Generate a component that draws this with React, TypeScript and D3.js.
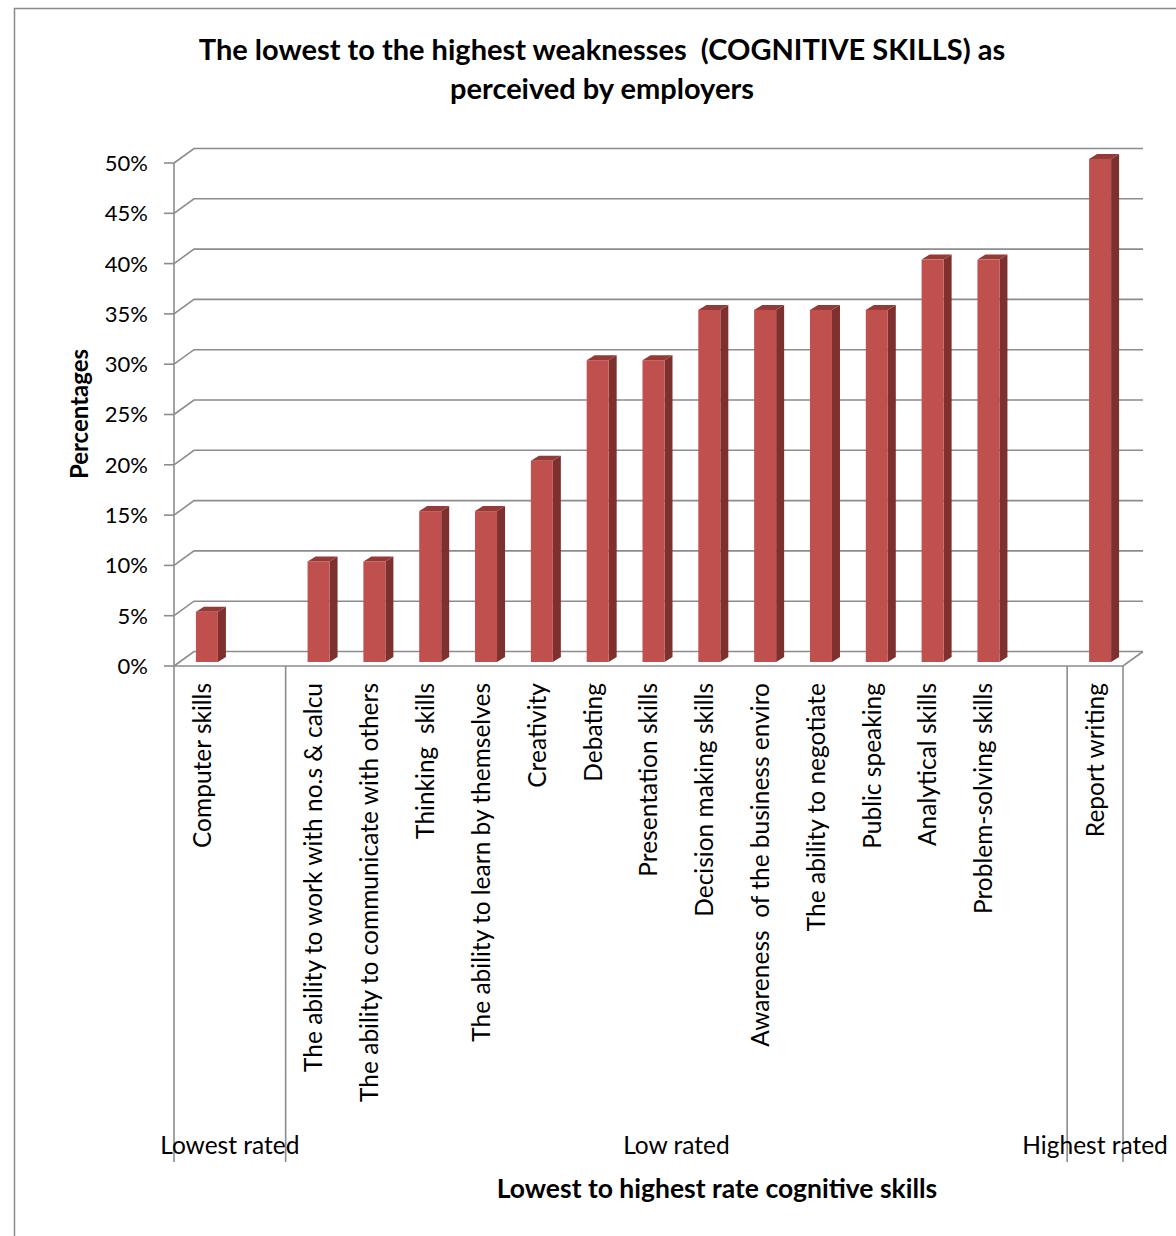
import React from "react";
import * as d3 from "d3";

const categories: string[] = [
  "Computer skills",
  "",
  "The ability to work with no.s & calcu",
  "The ability to communicate with others",
  "Thinking  skills",
  "The ability to learn by themselves",
  "Creativity",
  "Debating",
  "Presentation skills",
  "Decision making skills",
  "Awareness  of the business enviro",
  "The ability to negotiate",
  "Public speaking",
  "Analytical skills",
  "Problem-solving skills",
  "",
  "Report writing",
];
const values: (number | null)[] = [5, null, 10, 10, 15, 15, 20, 30, 30, 35, 35, 35, 35, 40, 40, null, 50];
const groupLabels: string[] = ["Lowest rated", "Low rated", "Highest rated"];
const groupSizes: number[] = [2, 14, 1];
const yTicks: number[] = [0, 5, 10, 15, 20, 25, 30, 35, 40, 45, 50];

const FONT = "Lato, 'Open Sans', sans-serif";
const W = 1176;
const H = 1236;

export default function App() {
  const left = 174;
  const right = 1123;
  const depthX = 20;
  const depthY = -14.5;
  const floorY = 666;
  const bottomY = 1162;

  const x = d3
    .scaleBand<number>()
    .domain(categories.map((_, i) => i))
    .range([left, right])
    .paddingInner(0)
    .paddingOuter(0);
  const bw = x.bandwidth();
  const yFront = d3.scaleLinear().domain([0, 50]).range([floorY, 163]);
  const yBar = d3.scaleLinear().domain([0, 50]).range([662, 159]);

  const gridColor = "#8c8c8c";
  const barW = 22;
  const sideW = 8;
  const topH = 5;

  const bounds: number[] = [0];
  let acc = 0;
  groupSizes.forEach((s) => {
    acc += s;
    bounds.push(acc);
  });
  const boundX = (k: number) => (k >= categories.length ? right : x(k)!);

  return (
    <svg
      width={W}
      height={H}
      style={{ position: "absolute", left: 0, top: 0, background: "#fff" }}
    >
      <rect x={0} y={0} width={W} height={H} fill="#fff" />
      <rect x={14.5} y={8.5} width={1180} height={1250} fill="none" stroke="#8a8a8a" strokeWidth={1.5} />

      {/* Title */}
      <text x={602} y={60} textAnchor="middle" fontFamily={FONT} fontWeight="bold" fontSize={29} style={{ whiteSpace: "pre" }}>
        {"The lowest to the highest weaknesses  (COGNITIVE SKILLS) as"}
      </text>
      <text x={602} y={99} textAnchor="middle" fontFamily={FONT} fontWeight="bold" fontSize={29}>
        perceived by employers
      </text>

      {/* Gridlines (back wall) */}
      {yTicks.map((t) => {
        const yf = yFront(t);
        return (
          <g key={t}>
            <path
              d={`M${left},${yf} L${left + depthX},${yf + depthY} L${right + depthX},${yf + depthY}`}
              fill="none"
              stroke={gridColor}
              strokeWidth={1.6}
            />
            <line x1={left - 10} x2={left} y1={yf} y2={yf} stroke={gridColor} strokeWidth={1.6} />
            <text x={148} y={yf} dy="0.36em" textAnchor="end" fontFamily={FONT} fontSize={22}>
              {t}%
            </text>
          </g>
        );
      })}

      {/* floor front + right edges */}
      <path
        d={`M${left},${floorY} L${right},${floorY} L${right + depthX},${floorY + depthY}`}
        fill="none"
        stroke={gridColor}
        strokeWidth={1.6}
      />
      {/* y axis line */}
      <line x1={left} x2={left} y1={yFront(50)} y2={bottomY} stroke={gridColor} strokeWidth={1.6} />
      {/* group divider lines */}
      {bounds.slice(1).map((b, i) => (
        <line key={i} x1={boundX(b)} x2={boundX(b)} y1={floorY} y2={bottomY} stroke={gridColor} strokeWidth={1.6} />
      ))}

      {/* Bars */}
      {values.map((v, i) => {
        if (v === null) return null;
        const cx = x(i)! + bw / 2 + 5;
        const x0 = cx - barW / 2;
        const x1 = cx + barW / 2;
        const yt = yBar(v);
        const yb = yBar(0);
        return (
          <g key={i}>
            <path
              d={`M${x1},${yb} L${x1},${yt} L${x1 + sideW},${yt - topH} L${x1 + sideW},${yb - topH} Z`}
              fill="#7e302e"
            />
            <path
              d={`M${x0},${yt} L${x0 + sideW},${yt - topH} L${x1 + sideW},${yt - topH} L${x1},${yt} Z`}
              fill="#943a37"
            />
            <rect x={x0} y={yt} width={barW} height={yb - yt} fill="#c0504d" />
          </g>
        );
      })}

      {/* Category labels */}
      {categories.map((c, i) => {
        const cx = x(i)! + bw / 2;
        return (
          <text
            key={i}
            transform={`translate(${cx},683) rotate(-90)`}
            textAnchor="end"
            dy="0.36em"
            fontFamily={FONT}
            fontSize={24.5}
            style={{ whiteSpace: "pre" }}
          >
            {c}
          </text>
        );
      })}

      {/* Group labels */}
      {groupLabels.map((g, i) => {
        const cx = (boundX(bounds[i]) + boundX(bounds[i + 1])) / 2;
        return (
          <text key={g} x={cx} y={1154} textAnchor="middle" fontFamily={FONT} fontSize={24.5}>
            {g}
          </text>
        );
      })}

      {/* Axis titles */}
      <text x={717} y={1198} textAnchor="middle" fontFamily={FONT} fontWeight="bold" fontSize={26.5}>
        Lowest to highest rate cognitive skills
      </text>
      <text
        transform={`translate(79,414) rotate(-90)`}
        textAnchor="middle"
        dy="0.36em"
        fontFamily={FONT}
        fontWeight="bold"
        fontSize={24}
      >
        Percentages
      </text>
    </svg>
  );
}
